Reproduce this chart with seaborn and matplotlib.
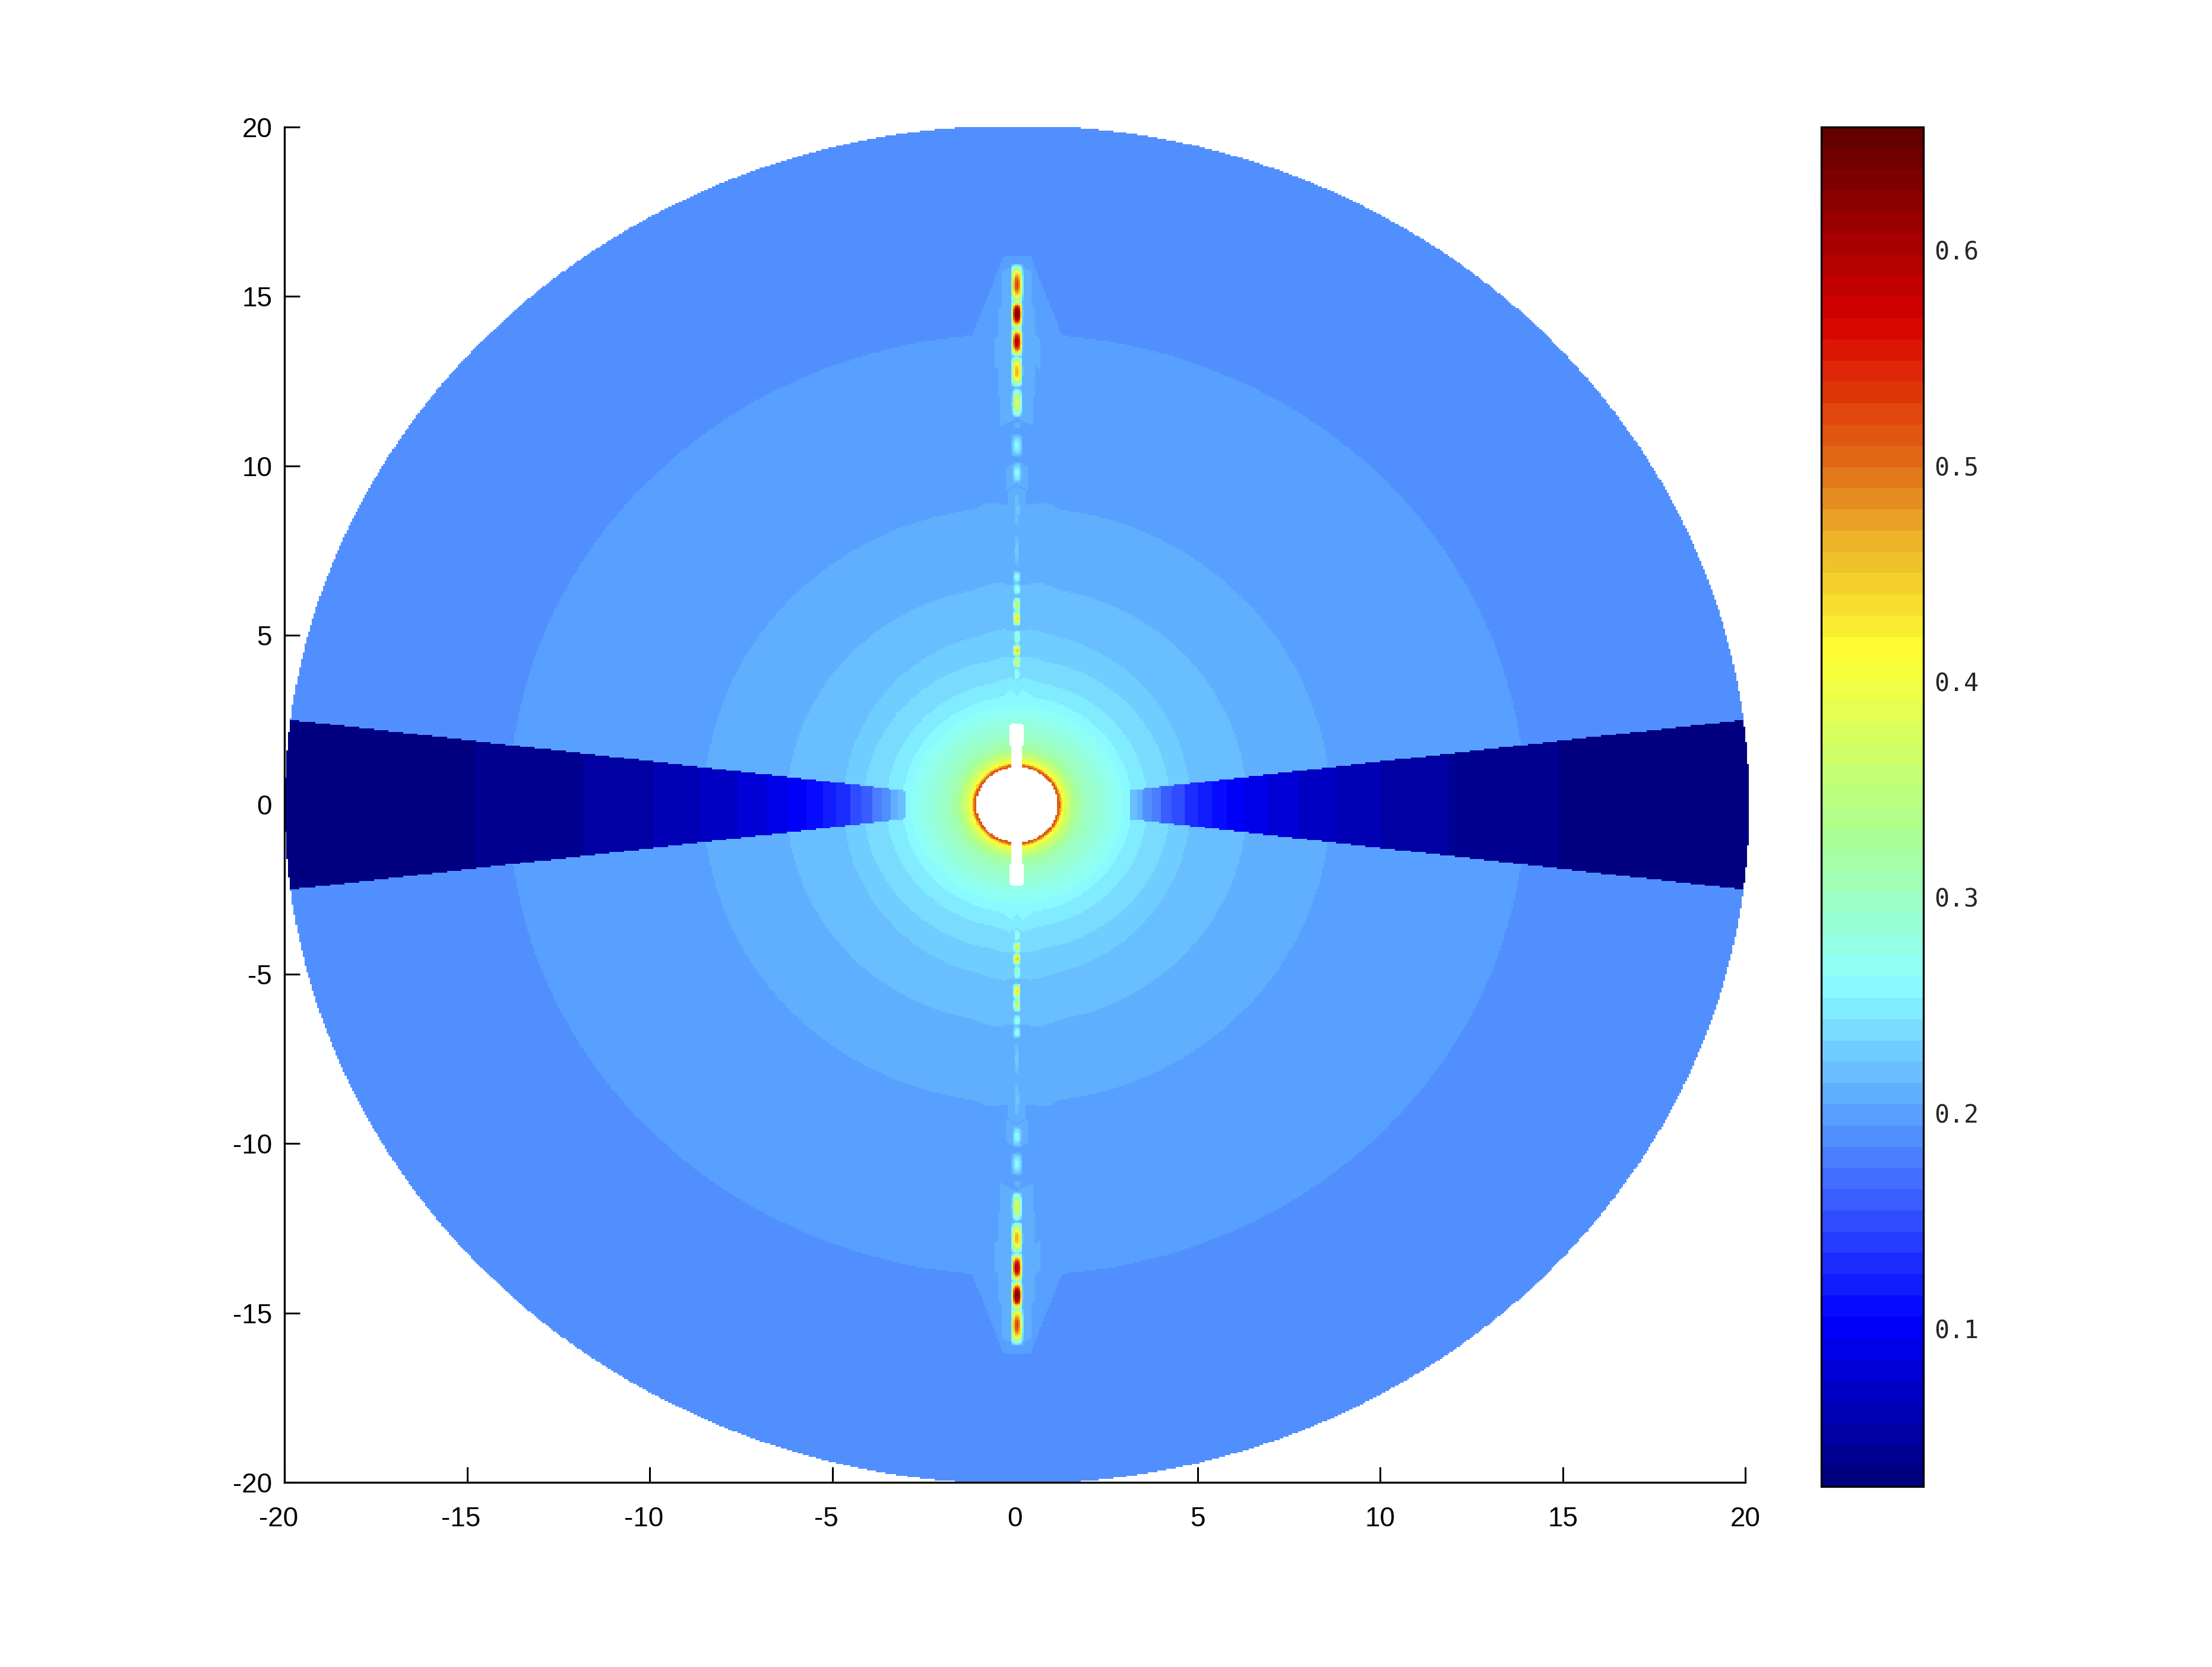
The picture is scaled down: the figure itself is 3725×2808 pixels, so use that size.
# ==================================================
# Radial field map with jet style colorbar
# ==================================================

import numpy as np
import pandas as pd
import matplotlib.pyplot as plt
import seaborn as sns
from matplotlib.colors import LinearSegmentedColormap
from matplotlib.transforms import ScaledTranslation

# ==================================================
# VALUES
# ==================================================

x_ticks = [-20, -15, -10, -5, 0, 5, 10, 15, 20]
y_ticks = [-20, -15, -10, -5, 0, 5, 10, 15, 20]
cbar_ticks = [0.1, 0.2, 0.3, 0.4, 0.5, 0.6]
vmin = 0.0268
vmax = 0.657

# outer contour bands: radius beside the axis, height over the axis, cusp on the vertical line
band_level = [0.19, 0.20, 0.21, 0.22, 0.23, 0.24, 0.25, 0.26]
band_radius = [20.05, 13.9, 8.57, 6.3, 4.75, 4.2, 3.58, 3.14]
band_tall = [20.05, 13.9, 8.8, 6.45, 5.1, 4.3, 3.65, 3.2]
band_tip = [20.05, 16.2, 8.95, 6.6, 5.2, 4.38, 3.75, 3.4]
tip_foot = [0.1, 1.23, 1.17, 1.2, 1.0, 0.75, 0.6, 0.45]
tip_top = [0.05, 0.36, 0.8, 0.6, 0.37, 0.3, 0.2, 0.15]
tip_notch = [0, 0, 1, 1, 1, 1, 1, 1]

# rings around the hole
core_radius = [2.9, 2.6, 2.35, 2.1, 1.9, 1.75, 1.62, 1.5, 1.4, 1.32, 1.27, 1.23, 1.2, 1.17]
core_level = [0.27, 0.28, 0.29, 0.30, 0.31, 0.32, 0.34, 0.36, 0.38, 0.40, 0.42, 0.45, 0.48, 0.51]

# dark wedge on both sides: outer end of each band
wedge_end = [20.2, 14.85, 11.85, 9.98, 8.67, 7.67, 6.88, 6.24, 5.76, 5.32, 4.94, 4.57, 4.26, 3.95, 3.71, 3.45, 3.27]
wedge_level = [0.03, 0.04, 0.05, 0.06, 0.07, 0.08, 0.09, 0.10, 0.11, 0.12, 0.13, 0.145, 0.16, 0.175, 0.19, 0.205, 0.22]
wedge_stop = 3.07
wedge_slope = 0.124
wedge_base = 0.04

# blobs on the vertical line, mirrored above and below the hole
spike_y = [15.36, 14.48, 13.66, 12.79, 11.86, 11.19, 10.6, 9.79, 8.7, 7.5, 6.72, 6.37, 5.9, 5.5, 4.95, 4.55, 4.2, 3.85]
spike_half = [0.6, 0.45, 0.45, 0.48, 0.45, 0.12, 0.34, 0.34, 0.7, 0.6, 0.2, 0.2, 0.24, 0.24, 0.24, 0.2, 0.2, 0.24]
spike_peak = [0.53, 0.657, 0.61, 0.47, 0.38, 0.215, 0.26, 0.26, 0.225, 0.23, 0.27, 0.28, 0.37, 0.44, 0.30, 0.45, 0.38, 0.29]
spike_wide = [0.18, 0.17, 0.17, 0.17, 0.15, 0.1, 0.16, 0.14, 0.1, 0.08, 0.12, 0.12, 0.11, 0.11, 0.11, 0.11, 0.11, 0.11]
spike_halo = [0.4, 0.5, 0.63, 0.5, 0.45, 0.0, 0.0, 0.31, 0.25, 0.0, 0.0, 0.0, 0.0, 0.0, 0.0, 0.0, 0.0, 0.0]

# white hole with its bar
hole_radius = 1.11
bar_half = 0.135
bar_end = 2.42
cap_half = 0.195
cap_start = 1.66
cap_corner = 0.07

x_center = 0.06

# colour table (value, r, g, b)
cmap_value = [0.0268, 0.10, 0.17, 0.20, 0.26, 0.33, 0.414, 0.47, 0.50, 0.53, 0.572, 0.657]
cmap_red = [0, 0, 70, 90, 140, 170, 255, 235, 225, 225, 215, 100]
cmap_green = [0, 0, 115, 165, 255, 255, 255, 175, 115, 65, 0, 0]
cmap_blue = [128, 255, 255, 255, 255, 145, 50, 40, 25, 10, 0, 0]

# ==================================================
# BUILD THE GRID
# ==================================================

step = 0.05
x_cells = np.arange(-20 + step / 2, 20.2, step)
y_cells = np.arange(20 - step / 2, -20, -step)
xx, yy = np.meshgrid(x_cells - x_center, y_cells)
abs_x = np.abs(xx)
abs_y = np.abs(yy)
rr = np.hypot(xx, yy)

field = np.full(xx.shape, np.nan)

for level, radius, tall, tip, foot, top, notch in zip(band_level, band_radius, band_tall, band_tip, tip_foot, tip_top, tip_notch):
    rise = np.clip((foot - abs_x) / (foot - top), 0, 1)
    if notch:
        rise = np.where(abs_x < top, abs_x / top, rise)
    edge = tall * np.sqrt(np.clip(1 - (xx / radius) ** 2, 0, None)) + rise * (tip - tall)
    field[abs_y < edge] = level

for radius, level in zip(core_radius, core_level):
    field[rr < radius] = level

# halo and blobs
for yc, half, halo in zip(spike_y, spike_half, spike_halo):
    if halo > 0:
        chevron = abs_y - yc + 0.55 * abs_x
        inside = (abs_x < halo) & (np.abs(chevron) < half)
        field[inside] = np.maximum(field[inside], 0.208)

for yc, half, peak, wide in zip(spike_y, spike_half, spike_peak, spike_wide):
    across = np.clip(1 - (abs_x / wide) ** 2, 0, 1)
    along = np.clip(1 - ((abs_y - yc) / half) ** 2, 0, 1)
    blob = 0.2 + (peak - 0.2) * across * along
    field = np.where((across > 0) & (along > 0), np.maximum(field, blob), field)

# wedge
in_wedge = (abs_y < wedge_slope * abs_x + wedge_base) & (abs_x > wedge_stop)
for end, level in zip(wedge_end, wedge_level):
    field[in_wedge & (abs_x < end)] = level

# hole and outside of the disc are left white
outside = rr > band_radius[0]
hole = rr < hole_radius
bar = (abs_x < bar_half) & (abs_y < bar_end)
cap = (abs_x < cap_half) & (abs_y > cap_start) & (abs_y < bar_end)
corner = (abs_x > cap_half - cap_corner) & ((abs_y > bar_end - cap_corner) | (abs_y < cap_start + cap_corner))
mask = outside | hole | bar | (cap & ~corner)

df = pd.DataFrame(field, index=y_cells, columns=x_cells)

# ==================================================
# COLORMAP
# ==================================================

positions = [(v - vmin) / (vmax - vmin) for v in cmap_value]
colors = [(r / 255, g / 255, b / 255) for r, g, b in zip(cmap_red, cmap_green, cmap_blue)]
jet_soft = LinearSegmentedColormap.from_list("jet_soft", list(zip(positions, colors)), N=64)

# ==================================================
# PLOT
# ==================================================

sns.set_style("ticks")
plt.rcParams["font.family"] = ["Liberation Sans Narrow", "Liberation Sans", "DejaVu Sans"]

width, height = 3725, 2808
fig = plt.figure(figsize=(width / 100, height / 100), dpi=100)
ax = fig.add_axes([479 / width, 1 - 2497 / height, 2460 / width, 2283 / height])
cax = fig.add_axes([3067 / width, 1 - 2504 / height, 172 / width, 2290 / height])

sns.heatmap(
    df,
    mask=mask,
    cmap=jet_soft,
    vmin=vmin,
    vmax=vmax,
    ax=ax,
    cbar_ax=cax,
    cbar_kws={"ticks": cbar_ticks},
    xticklabels=False,
    yticklabels=False
)

# cell coordinates of the axis limits and ticks
ax.set_xlim(0, 40 / step)
ax.set_ylim(40 / step, 0)
ax.collections[0].set_clip_on(False)

ax.set_xticks([(t + 20) / step for t in x_ticks])
ax.set_xticklabels([str(t) for t in x_ticks], rotation=0)
ax.set_yticks([(20 - t) / step for t in y_ticks])
ax.set_yticklabels([str(t) for t in y_ticks], rotation=0)

ax.tick_params(axis="both", direction="in", length=19, width=2.2, labelsize=33, colors="black")
ax.tick_params(axis="x", pad=29)
ax.tick_params(axis="y", pad=15)

# the minus sign hangs out to the left of the tick
for label, tick in zip(ax.get_xticklabels(), x_ticks):
    if tick < 0:
        label.set_transform(label.get_transform() + ScaledTranslation(-0.1, 0, fig.dpi_scale_trans))

for side in ["left", "bottom"]:
    ax.spines[side].set_visible(True)
    ax.spines[side].set_linewidth(2.4)
    ax.spines[side].set_color("black")
for side in ["top", "right"]:
    ax.spines[side].set_visible(False)

cbar = ax.collections[0].colorbar
cbar.outline.set_visible(True)
cbar.outline.set_linewidth(2.4)
cbar.outline.set_edgecolor("black")
cax.tick_params(left=True, right=True, direction="in", length=13, width=1.8, pad=13)
cax.set_yticklabels(["0.1", "0.2", "0.3", "0.4", "0.5", "0.6"], family="DejaVu Sans Mono", fontsize=30)

plt.savefig("out.png", dpi=100)
